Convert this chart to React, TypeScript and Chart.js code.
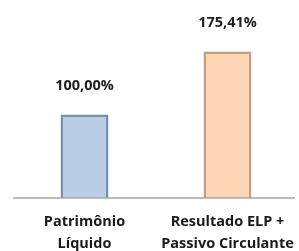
import React, { useEffect, useRef } from "react";
import { Chart, registerables } from "chart.js";

Chart.register(...registerables);

const categories: string[][] = [["Patrimônio", "Líquido"], ["Resultado ELP +", "Passivo Circulante"]];
const values: number[] = [100.0, 175.41];
const valueLabels: string[] = ["100,00%", "175,41%"];
const fillColors: string[] = ["#b9cde5", "#fcd5b5"];
const edgeColors: string[] = ["#7a8fae", "#c49c7e"];

const FONT = "'Open Sans', 'Liberation Sans', sans-serif";

const valueLabelPlugin = {
  id: "valueLabels",
  afterDatasetsDraw(chart: any) {
    const ctx = chart.ctx;
    const meta = chart.getDatasetMeta(0);
    ctx.save();
    ctx.font = `bold 14.5px ${FONT}`;
    ctx.fillStyle = "#1e1e1e";
    ctx.textAlign = "center";
    ctx.textBaseline = "middle";
    meta.data.forEach((bar: any, i: number) => {
      ctx.fillText(valueLabels[i], bar.x, bar.y - 29);
    });
    ctx.restore();
  },
};

const axisLinePlugin = {
  id: "axisLine",
  afterDatasetsDraw(chart: any) {
    const ctx = chart.ctx;
    const y = chart.scales.x.top;
    ctx.save();
    ctx.strokeStyle = "#a6a6a6";
    ctx.lineWidth = 1.5;
    ctx.beginPath();
    ctx.moveTo(13, y);
    ctx.lineTo(295, y);
    ctx.stroke();
    ctx.restore();
  },
};

export default function App() {
  const ref = useRef<HTMLCanvasElement>(null);
  useEffect(() => {
    document.body.style.margin = "0";
    const chart = new Chart(ref.current!, {
      type: "bar",
      data: {
        labels: categories,
        datasets: [
          {
            data: values,
            backgroundColor: fillColors,
            borderColor: edgeColors,
            borderWidth: 2.5,
            barPercentage: 0.335,
            categoryPercentage: 1,
          },
        ],
      },
      options: {
        animation: false,
        responsive: false,
        layout: { padding: { left: 13, right: 0, top: 0, bottom: 0 } },
        plugins: { legend: { display: false }, tooltip: { enabled: false } },
        scales: {
          x: {
            grid: { display: false },
            border: { display: false },
            ticks: {
              color: "#1a1a1a",
              padding: 5,
              maxRotation: 0,
              autoSkip: false,
              font: { family: FONT, size: 14.5, weight: "bold", lineHeight: 1.52 },
            },
          },
          y: { display: false, min: 0, max: 237 },
        },
      },
      plugins: [valueLabelPlugin, axisLinePlugin],
    });
    return () => chart.destroy();
  }, []);
  return (
    <div style={{ width: 299, height: 251, overflow: "hidden", background: "#fff" }}>
      <canvas ref={ref} width={299} height={260} />
    </div>
  );
}
